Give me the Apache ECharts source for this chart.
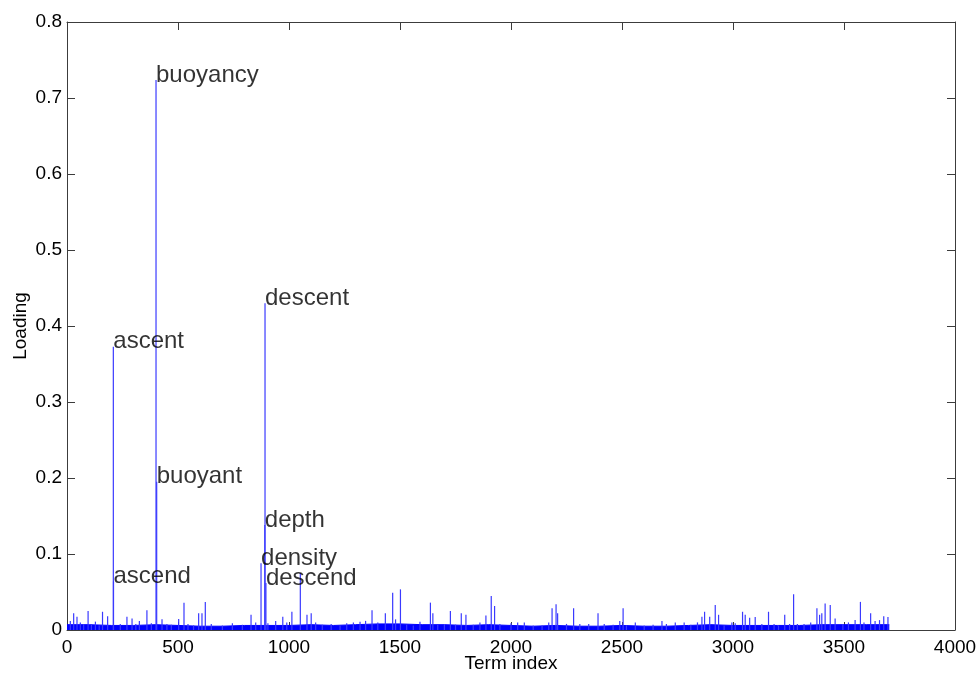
<!DOCTYPE html>
<html>
<head>
<meta charset="utf-8">
<script src="https://cdn.jsdelivr.net/npm/echarts@6/dist/echarts.min.js"></script>
<style>
html,body{margin:0;padding:0;background:#fff;}
#chart{width:979px;height:675px;}
</style>
</head>
<body>
<div id="chart"></div>
<script>
// Labelled terms: index, loading, name
const termIndex = [208.7, 209.5, 401, 404, 874, 891, 892, 896];
const termLoading = [0.3728, 0.064, 0.7237, 0.195, 0.0877, 0.138, 0.430, 0.062];
const termNames = ['ascent', 'ascend', 'buoyancy', 'buoyant', 'density', 'depth', 'descent', 'descend'];

// Unlabelled visible spikes: index, loading
const spikeIndex = [15,30,45,60,75,95,110,128,145,160,183,240,270,293,310,326,360,380,428,450,470,503,527,545,570,593,608,623,
  650,700,745,790,829,850,905,940,972,990,1013,1051,1081,1100,
  1120,1150,1190,1230,1260,1290,1320,1345,1374,1400,1434,1467,1480,1502,1530,1560,1590,1637,1648,1670,1700,1727,1750,1776,1797,1830,1860,
  1887,1911,1926,1950,2000,2030,2060,2100,2140,2170,2185,2203,2210,2250,2282,2310,2350,2392,2420,2460,2490,2505,
  2520,2560,2600,2640,2680,2700,2740,2780,2810,2840,2860,2872,2895,2920,2935,2960,2995,3010,3043,3055,3075,3100,
  3130,3160,3185,3205,3233,3255,3273,3290,3320,3350,3378,3390,3400,3415,3438,3460,3495,3520,3550,3574,3590,3620,3640,3660,3679,3698];
const spikeLoading = [0.012,0.022,0.0175,0.010,0.008,0.025,0.007,0.011,0.006,0.024,0.018,0.008,0.0175,0.015,0.008,0.012,0.026,0.009,0.014,0.008,0.007,0.0145,0.036,0.008,0.006,0.022,0.022,0.037,
  0.008,0.006,0.009,0.007,0.020,0.010,0.009,0.012,0.0175,0.010,0.024,0.075,0.020,0.022,
  0.010,0.007,0.008,0.006,0.009,0.010,0.011,0.012,0.026,0.010,0.022,0.049,0.014,0.0535,0.007,0.006,0.011,0.036,0.022,0.007,0.007,0.025,0.007,0.022,0.020,0.007,0.010,
  0.019,0.0447,0.0316,0.008,0.009,0.010,0.010,0.006,0.006,0.010,0.0285,0.034,0.022,0.008,0.0285,0.008,0.008,0.022,0.008,0.007,0.012,0.0285,
  0.006,0.010,0.006,0.007,0.012,0.008,0.010,0.010,0.007,0.010,0.0175,0.024,0.0175,0.033,0.020,0.006,0.010,0.009,0.024,0.020,0.016,0.017,
  0.008,0.024,0.008,0.006,0.020,0.008,0.047,0.008,0.008,0.010,0.0285,0.020,0.022,0.035,0.033,0.015,0.008,0.010,0.013,0.037,0.010,0.022,0.012,0.013,0.018,0.017];

// Dense noise floor, per 100-term block starting at blockStart
const blockStart = [0,100,200,300,400,500,600,700,800,900,1000,1100,1200,1300,1400,1500,1600,1700,1800,1900,2000,2100,2200,2300,2400,2500,2600,2700,2800,2900,3000,3100,3200,3300,3400,3500,3600,3704];
const blockFloor = [0.007,0.007,0.006,0.006,0.007,0.006,0.005,0.005,0.006,0.006,0.006,0.007,0.006,0.007,0.008,0.008,0.007,0.007,0.006,0.007,0.006,0.005,0.006,0.005,0.005,0.006,0.005,0.005,0.006,0.007,0.006,0.006,0.006,0.006,0.007,0.007,0.007,0.007];

const xTicks = [0,500,1000,1500,2000,2500,3000,3500,4000];
const yTicks = [0,0.1,0.2,0.3,0.4,0.5,0.6,0.7,0.8];

const FONT = "'Liberation Sans', Arial, Helvetica, sans-serif";
const AX = '#3c3c3c';

const barData = [];
spikeIndex.forEach((x, i) => barData.push([x, spikeLoading[i]]));
termIndex.forEach((x, i) => barData.push([x, termLoading[i]]));
const floorData = blockStart.map((x, i) => [x, blockFloor[i]]);
const labelData = termIndex.map((x, i) => ({ value: [x, termLoading[i]], name: termNames[i] }));

const chart = echarts.init(document.getElementById('chart'), null, { renderer: 'canvas' });
const baseAxis = {
  type: 'value',
  axisLine: { show: true, onZero: false, lineStyle: { color: AX, width: 1 } },
  axisTick: { show: true, inside: true, length: 8, lineStyle: { color: AX } },
  splitLine: { show: false }
};
chart.setOption({
  animation: false,
  backgroundColor: '#ffffff',
  grid: { left: 67, right: 24, top: 22, bottom: 45, containLabel: false, outerBoundsMode: 'none' },
  xAxis: [
    Object.assign({}, baseAxis, {
      min: xTicks[0], max: xTicks[xTicks.length - 1], interval: 500, position: 'bottom',
      name: 'Term index', nameLocation: 'middle', nameGap: 24, nameMoveOverlap: false,
      nameTextStyle: { fontFamily: FONT, fontSize: 19, color: '#000' },
      axisLabel: { show: true, margin: 8, fontFamily: FONT, fontSize: 19, color: '#000', formatter: v => String(v) }
    }),
    Object.assign({}, baseAxis, {
      min: xTicks[0], max: xTicks[xTicks.length - 1], interval: 500, position: 'top',
      axisLabel: { show: false }
    })
  ],
  yAxis: [
    Object.assign({}, baseAxis, {
      min: yTicks[0], max: yTicks[yTicks.length - 1], interval: 0.1, position: 'left',
      name: 'Loading', nameLocation: 'middle', nameGap: 37, nameMoveOverlap: false,
      nameTextStyle: { fontFamily: FONT, fontSize: 19, color: '#000' },
      axisLabel: { show: true, margin: 5, fontFamily: FONT, fontSize: 19, color: '#000' }
    }),
    Object.assign({}, baseAxis, {
      min: yTicks[0], max: yTicks[yTicks.length - 1], interval: 0.1, position: 'right',
      axisLabel: { show: false }
    })
  ],
  series: [
    {
      type: 'line', data: floorData, step: 'start', symbol: 'none',
      lineStyle: { color: '#0000ff', width: 1 },
      areaStyle: { color: '#0000ff', opacity: 1 },
      xAxisIndex: 0, yAxisIndex: 0, z: 2
    },
    {
      type: 'bar', data: barData, barWidth: 1.2,
      itemStyle: { color: '#3a3aff' },
      xAxisIndex: 0, yAxisIndex: 0, z: 3
    },
    {
      type: 'scatter', data: labelData, symbolSize: 0,
      label: {
        show: true, position: 'right', distance: 0, offset: [0, -5],
        formatter: p => p.name, fontFamily: FONT, fontSize: 24, color: '#000'
      },
      xAxisIndex: 0, yAxisIndex: 0, z: 5
    }
  ]
});
</script>
</body>
</html>
